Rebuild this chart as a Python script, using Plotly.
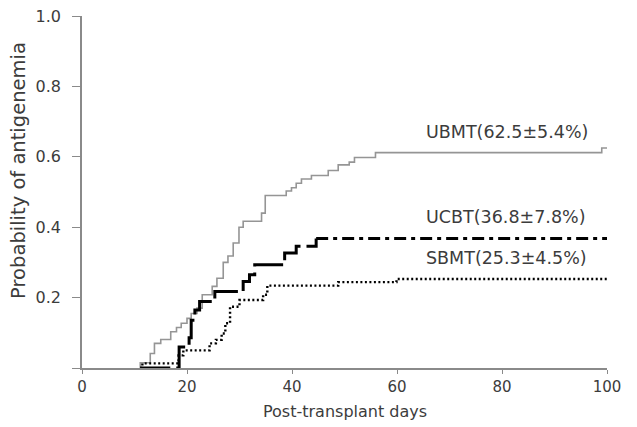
import plotly.graph_objects as go

# ---- data ----
ubmt_days = [11.1, 11.1, 13.0, 13.8, 15.0, 16.9, 18.0, 18.9, 20.0, 20.8, 21.9, 22.9, 24.8,
             25.7, 26.9, 27.8, 28.8, 29.9, 30.7, 34.2, 34.9, 38.9, 39.9, 40.8, 41.8, 43.7,
             46.9, 48.8, 50.9, 51.9, 55.9, 99.0, 100.0]
ubmt_prob = [0.0, 0.015, 0.041, 0.07, 0.081, 0.103, 0.115, 0.127, 0.141, 0.155, 0.17, 0.208,
             0.232, 0.255, 0.30, 0.318, 0.355, 0.40, 0.417, 0.44, 0.49, 0.503, 0.512, 0.525,
             0.537, 0.547, 0.561, 0.577, 0.585, 0.598, 0.612, 0.625, 0.625]

ucbt_days = [11.1, 18.5, 20.4, 20.8, 21.5, 22.4, 25.3, 30.7, 31.9, 32.9, 38.6, 40.8, 44.6, 100.0]
ucbt_prob = [0.0, 0.06, 0.086, 0.136, 0.165, 0.189, 0.217, 0.246, 0.265, 0.293, 0.327, 0.346,
             0.368, 0.368]

sbmt_days = [11.1, 11.5, 18.4, 19.3, 24.3, 25.5, 26.6, 27.3, 28.2, 30.0, 34.5, 35.3, 48.8, 59.9, 100.0]
sbmt_prob = [0.0, 0.013, 0.036, 0.05, 0.07, 0.08, 0.098, 0.127, 0.174, 0.193, 0.208, 0.234,
             0.244, 0.253, 0.253]

labels = ["UBMT(62.5\u00b15.4%)", "UCBT(36.8\u00b17.8%)", "SBMT(25.3\u00b14.5%)"]
y_ticks = [0, 0.2, 0.4, 0.6, 0.8, 1.0]
y_tick_text = ["", "0.2", "0.4", "0.6", "0.8", "1.0"]
x_ticks = [0, 20, 40, 60, 80, 100]
ucbt_split = 44.6

FONT = "DejaVu Sans"
AXIS_COL = "#8a8a8a"
TXT_COL = "#3c3c3c"

fig = go.Figure()

fig.add_trace(go.Scatter(x=ubmt_days, y=ubmt_prob, mode="lines", line_shape="hv",
                         line=dict(color="#959595", width=1.6), showlegend=False))

early_x = [d for d in ucbt_days if d <= ucbt_split]
early_y = ucbt_prob[:len(early_x)]
late_x = [d for d in ucbt_days if d >= ucbt_split]
late_y = ucbt_prob[len(ucbt_days) - len(late_x):]

fig.add_trace(go.Scatter(x=early_x, y=early_y, mode="lines", line_shape="hv",
                         line=dict(color="black", width=3, dash="30px,6px"), showlegend=False))
fig.add_trace(go.Scatter(x=late_x, y=late_y, mode="lines", line_shape="hv",
                         line=dict(color="black", width=3, dash="12px,5px,4px,5px"), showlegend=False))

fig.add_trace(go.Scatter(x=sbmt_days, y=sbmt_prob, mode="lines", line_shape="hv",
                         line=dict(color="black", width=2.4, dash="2px,2.5px"), showlegend=False))

label_y = [0.67, 0.428, 0.313]
for txt, yy in zip(labels, label_y):
    fig.add_annotation(x=65.1, y=yy, xref="x", yref="y", text=txt, showarrow=False,
                       xanchor="left", yanchor="middle",
                       font=dict(family=FONT, size=17.5, color=TXT_COL))

# axis titles as annotations placed in the margins
fig.add_annotation(x=0.5, y=0, xref="paper", yref="paper", yshift=-43,
                   text="Post-transplant days", showarrow=False, xanchor="center", yanchor="middle",
                   font=dict(family=FONT, size=16, color=TXT_COL))
fig.add_annotation(x=0, y=0.56, xref="paper", yref="paper", xshift=-63,
                   text="Probability of antigenemia", showarrow=False, textangle=-90,
                   xanchor="center", yanchor="middle",
                   font=dict(family=FONT, size=19.5, color=TXT_COL))

# the page body adds an 8px margin, so the figure is sized to fit inside it
fig.update_layout(
    width=629, height=419,
    margin=dict(l=74, r=30, t=8, b=59, autoexpand=False),
    paper_bgcolor="white", plot_bgcolor="white",
    font=dict(family=FONT, color=TXT_COL),
)
fig.update_xaxes(range=[0, 100], tickvals=x_ticks, ticks="outside", ticklen=4, tickwidth=1.2,
                 tickcolor=AXIS_COL, showline=True, linecolor=AXIS_COL, linewidth=1.5,
                 showgrid=False, zeroline=False, automargin=False, ticklabeloverflow="allow",
                 tickfont=dict(family=FONT, size=15, color=TXT_COL))
fig.update_yaxes(range=[0, 1.0], tickvals=y_ticks, ticktext=y_tick_text, ticks="outside",
                 ticklen=8, tickwidth=1.2, tickcolor=AXIS_COL, showline=True, linecolor=AXIS_COL,
                 linewidth=1.5, showgrid=False, zeroline=False, automargin=False,
                 ticklabelstandoff=8, ticklabeloverflow="allow",
                 tickfont=dict(family=FONT, size=16, color=TXT_COL))

fig.write_html("out.html")
